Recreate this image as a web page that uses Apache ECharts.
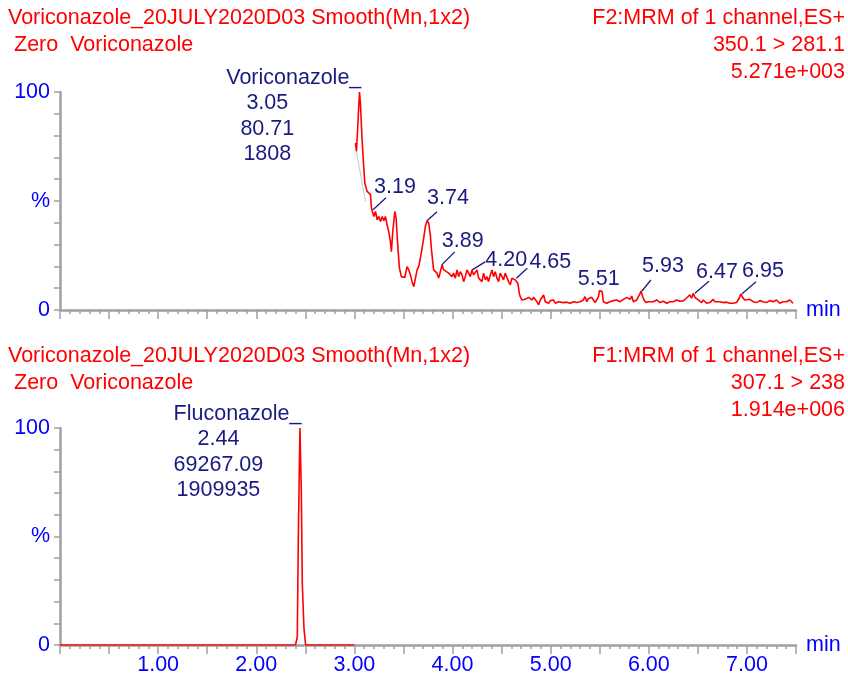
<!DOCTYPE html>
<html>
<head>
<meta charset="utf-8">
<script src="https://cdn.jsdelivr.net/npm/echarts@6/dist/echarts.min.js"></script>
<style>
html,body{margin:0;padding:0;background:#fff;}
#chart{width:848px;height:678px;}
</style>
</head>
<body>
<div id="chart"></div>
<script>
// ---------- DATA ----------
const voriTime = [3.011,3.021,3.035,3.052,3.062,3.079,3.096,3.106,3.120,3.130,3.147,3.164,3.174,3.187,3.198,3.215,3.232,3.249,3.266,3.283,3.300,3.316,3.333,3.350,3.367,3.377,3.391,3.412,3.425,3.435,3.446,3.459,3.479,3.493,3.513,3.537,3.554,3.571,3.588,3.605,3.622,3.639,3.655,3.672,3.690,3.706,3.723,3.741,3.757,3.774,3.784,3.798,3.808,3.825,3.842,3.859,3.876,3.893,3.910,
3.927,3.961,3.995,4.011,4.028,4.046,4.062,4.079,4.097,4.113,4.130,4.148,4.164,4.181,4.198,4.215,4.232,4.249,4.266,4.283,4.300,4.316,4.334,4.351,4.367,4.385,4.402,4.418,4.435,4.453,4.469,4.486,4.504,4.520,4.537,4.554,4.571,4.588,4.605,4.622,4.639,4.656,4.666,4.680,4.690,4.707,4.724,4.741,4.758,4.775,4.792,4.809,4.826,4.843,4.860,4.877,4.894,4.911,4.928,4.945,4.962,4.979,4.996,5.013,5.030,5.047,5.081,
5.097,5.130,5.164,5.198,5.232,5.266,5.300,5.333,5.350,5.368,5.384,5.402,5.419,5.436,5.453,5.470,5.487,5.497,5.510,5.524,5.537,5.571,5.605,5.639,5.673,5.707,5.741,5.775,5.809,5.826,5.843,5.877,5.904,5.921,5.938,5.951,5.972,5.995,6.012,6.046,6.080,6.114,6.148,6.182,6.216,6.249,6.283,6.317,6.351,6.385,
6.402,6.419,6.436,6.453,6.470,6.487,6.504,6.521,6.538,6.555,6.572,6.589,6.622,6.640,6.656,6.673,6.690,6.724,6.758,6.792,6.826,6.860,6.894,6.921,6.938,6.955,6.978,6.995,7.029,7.063,7.097,7.131,7.165,7.199,7.233,7.267,7.301,7.334,7.368,7.402,7.436,7.453,7.470];
const voriIntensity = [76.6,72.8,85,100,94.3,77.4,65.1,58.2,55.9,54.4,55.2,52.9,46.7,46.0,42.9,45.2,41.4,42.9,40.6,42.9,41.0,42.9,39.1,36.0,31.4,26.8,36.0,45.2,42.1,34.5,26.8,19.2,15.3,16.1,14.9,19.9,18.4,16.1,13.0,10.7,14.6,18.4,19.9,23.8,28.4,33.0,38.3,40.9,39.8,34.5,28.4,22.2,18.4,17.6,16.9,14.6,17.6,20.7,18.4,
17.6,16.9,15.3,16.9,14.6,18.4,15.3,17.6,16.1,13.0,15.3,18.4,16.9,15.3,18.4,16.1,16.9,18.4,14.6,15.3,13.0,16.9,13.8,15.3,13.0,16.1,18.4,15.3,17.6,14.6,13.0,16.9,15.3,13.8,16.9,16.1,13.0,11.5,14.6,13.8,13.8,14.6,12.3,7.7,6.1,4.6,5.4,4.9,4.6,5.8,4.9,4.6,5.8,5.1,3.8,2.3,4.6,5.4,6.9,3.8,4.6,3.1,4.3,3.8,4.6,3.1,3.8,
3.8,3.4,3.6,3.1,3.8,3.4,3.8,4.6,6.1,3.8,5.2,4.6,5.8,4.6,3.4,3.8,6.1,8.9,8.9,8.5,3.8,3.1,3.8,4.3,4.6,3.8,4.9,5.8,4.9,6.4,3.8,4.6,6.9,8.7,6.1,4.6,3.4,3.8,3.1,3.8,4.6,3.4,4.0,3.1,3.8,3.8,4.6,4.0,4.2,5.5,
5.8,6.9,5.4,7.7,5.8,5.4,4.6,3.8,3.4,4.6,3.8,3.1,3.4,4.3,4.9,3.8,3.4,3.8,3.4,3.6,3.1,3.1,3.4,5.4,7.4,5.8,4.6,3.8,4.9,3.8,3.4,4.3,3.8,3.4,4.3,3.8,4.6,3.1,3.8,3.8,4.6,4.6,3.1];
// faint grey segment under the first peak
const voriGreyTime = [3.021, 3.113];
const voriGreyIntensity = [72.8, 49.8];

const voriPeakTimes = [3.19, 3.74, 3.89, 4.20, 4.65, 5.51, 5.93, 6.47, 6.95];
const voriPeakHeights = [46.0, 40.9, 20.7, 18.4, 14.6, 8.9, 8.7, 7.7, 7.4];

const voriMainName = 'Voriconazole';
const voriMainTime = 3.05;
const voriMainHeight = 100;
const voriMainArea = '80.71';
const voriMainCounts = '1808';

const flucoTime = [0, 2.40, 2.411, 2.418, 2.428, 2.445, 2.459, 2.469, 2.486, 2.503, 3.00];
const flucoIntensity = [0, 0, 0, 3.8, 48, 100, 71, 28.5, 7.8, 0, 0];
const flucoMainName = 'Fluconazole';
const flucoMainTime = 2.44;
const flucoMainHeight = 100;
const flucoMainArea = '69267.09';
const flucoMainCounts = '1909935';

const topHeaderLeft = ['Voriconazole_20JULY2020D03 Smooth(Mn,1x2)', 'Zero  Voriconazole'];
const topHeaderRight = ['F2:MRM of 1 channel,ES+', '350.1 > 281.1', '5.271e+003'];
const botHeaderLeft = ['Voriconazole_20JULY2020D03 Smooth(Mn,1x2)', 'Zero  Voriconazole'];
const botHeaderRight = ['F1:MRM of 1 channel,ES+', '307.1 > 238', '1.914e+006'];

const xTickLabels = ['1.00','2.00','3.00','4.00','5.00','6.00','7.00'];
const yTickLabels = {0: '0', 50: '%', 100: '100'};

// ---------- STYLE ----------
const RED = '#ff0000';
const BLUE = '#0000ff';
const NAVY = '#1a1a80';
const GREY = '#a0a0a0';
const FONT_FAMILY = '"Liberation Sans", Arial, sans-serif';
const FS = 21.5;
const FONT = FS + 'px ' + FONT_FAMILY;

// placement of each small peak label relative to apex: guide line end, text centre
const peakLabelOffsets = [
  {line:[13,-12], text:[22,-23]},
  {line:[10,-9],  text:[21,-23]},
  {line:[13,-13], text:[21,-23.5]},
  {line:[13,-8],  text:[34,-9.5]},
  {line:[11,-10], text:[34,-16]},
  {line:null,     text:[-2,-11.5]},
  {line:[9,-11],  text:[21,-24.5]},
  {line:[14,-12], text:[22,-21.5]},
  {line:[14,-12], text:[21,-22.5]}
];

function pairs(t, v) { return t.map((x, i) => [x, v[i]]); }

function makeXAxis(gridIndex, showLabels) {
  return {
    type: 'value', gridIndex: gridIndex, min: 0, max: 7.5, interval: 0.5,
    axisLine: {show: true, onZero: false, lineStyle: {color: GREY, width: 2.5}},
    axisTick: {show: true, length: 9, lineStyle: {color: GREY, width: 1.5}},
    minorTick: {show: true, splitNumber: 5, length: 4, lineStyle: {color: GREY, width: 1.5}},
    splitLine: {show: false}, minorSplitLine: {show: false},
    axisLabel: {
      show: showLabels, color: BLUE, fontSize: FS, fontFamily: FONT_FAMILY, margin: 9,
      formatter: function (v) {
        const s = v.toFixed(2);
        return xTickLabels.indexOf(s) >= 0 ? s : '';
      }
    },
    name: 'min', nameLocation: 'end', nameGap: 10,
    nameTextStyle: {color: BLUE, fontSize: FS, fontFamily: FONT_FAMILY, verticalAlign: 'middle', padding: [12, 0, 0, 0]}
  };
}
function makeYAxis(gridIndex) {
  return {
    type: 'value', gridIndex: gridIndex, min: 0, max: 100, interval: 10,
    axisLine: {show: true, lineStyle: {color: GREY, width: 2.5}},
    axisTick: {show: true, length: 6, lineStyle: {color: GREY, width: 1.5}},
    splitLine: {show: false},
    axisLabel: {
      color: BLUE, fontSize: FS, fontFamily: FONT_FAMILY, margin: 10,
      formatter: function (v) { return yTickLabels[v] !== undefined ? yTickLabels[v] : ''; }
    }
  };
}

function peakLabelRenderer(params, api) {
  const i = params.dataIndex;
  const p = api.coord([api.value(0), api.value(1)]);
  const o = peakLabelOffsets[i];
  const children = [];
  if (o.line) {
    children.push({type: 'line', shape: {x1: p[0], y1: p[1], x2: p[0] + o.line[0], y2: p[1] + o.line[1]},
      style: {stroke: NAVY, lineWidth: 1.3}});
  }
  children.push({type: 'text', style: {
    text: voriPeakTimes[i].toFixed(2), x: p[0] + o.text[0], y: p[1] + o.text[1],
    font: FONT, fill: NAVY, textAlign: 'center', textVerticalAlign: 'middle'}});
  return {type: 'group', children: children};
}

function mainLabelRenderer(name, rt, area, counts, subDx) {
  return function (params, api) {
    const p = api.coord([api.value(0), api.value(1)]);
    const lines = [rt.toFixed(2), area, counts];
    const children = [{type: 'text', style: {text: name + '_', x: p[0] + 2, y: p[1] - 14,
      font: FONT, fill: NAVY, textAlign: 'right', textVerticalAlign: 'middle'}}];
    lines.forEach(function (s, k) {
      children.push({type: 'text', style: {text: s, x: p[0] + subDx, y: p[1] + 11.5 + k * 25.5,
        font: FONT, fill: NAVY, textAlign: 'center', textVerticalAlign: 'middle'}});
    });
    return {type: 'group', children: children};
  };
}

function headerTexts(left, right, y0) {
  const els = [];
  left.forEach(function (s, k) {
    els.push({type: 'text', x: k === 0 ? 8 : 14, y: y0 + k * 27,
      style: {text: s, font: FONT, fill: RED, textAlign: 'left', textVerticalAlign: 'middle'}});
  });
  right.forEach(function (s, k) {
    els.push({type: 'text', x: 845, y: y0 + k * 27,
      style: {text: s, font: FONT, fill: RED, textAlign: 'right', textVerticalAlign: 'middle'}});
  });
  return els;
}

const chart = echarts.init(document.getElementById('chart'), null, {renderer: 'canvas'});
chart.setOption({
  animation: false,
  backgroundColor: '#ffffff',
  grid: [
    {left: 60, right: 52, top: 92, height: 218},
    {left: 60, right: 52, top: 428, height: 217}
  ],
  xAxis: [makeXAxis(0, false), makeXAxis(1, true)],
  yAxis: [makeYAxis(0), makeYAxis(1)],
  graphic: headerTexts(topHeaderLeft, topHeaderRight, 18).concat(headerTexts(botHeaderLeft, botHeaderRight, 356)),
  series: [
    {type: 'line', xAxisIndex: 0, yAxisIndex: 0, data: pairs(voriGreyTime, voriGreyIntensity),
      showSymbol: false, lineStyle: {color: '#c8c8c8', width: 1}, z: 2},
    {type: 'line', xAxisIndex: 0, yAxisIndex: 0, data: pairs(voriTime, voriIntensity),
      showSymbol: false, lineStyle: {color: RED, width: 1.6}, z: 3},
    {type: 'custom', xAxisIndex: 0, yAxisIndex: 0, data: pairs(voriPeakTimes, voriPeakHeights),
      renderItem: peakLabelRenderer, clip: false, z: 4},
    {type: 'custom', xAxisIndex: 0, yAxisIndex: 0, data: [[voriMainTime, voriMainHeight]],
      renderItem: mainLabelRenderer(voriMainName, voriMainTime, voriMainArea, voriMainCounts, -92), clip: false, z: 4},
    {type: 'line', xAxisIndex: 1, yAxisIndex: 1, data: pairs(flucoTime, flucoIntensity),
      showSymbol: false, lineStyle: {color: RED, width: 1.6}, z: 3},
    {type: 'custom', xAxisIndex: 1, yAxisIndex: 1, data: [[flucoMainTime, flucoMainHeight]],
      renderItem: mainLabelRenderer(flucoMainName, flucoMainTime, flucoMainArea, flucoMainCounts, -81), clip: false, z: 4}
  ]
});
</script>
</body>
</html>
